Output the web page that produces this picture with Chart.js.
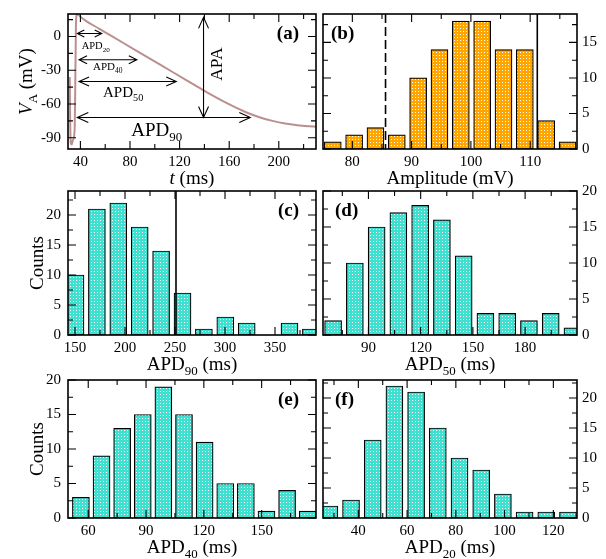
<!DOCTYPE html>
<html>
<head>
<meta charset="utf-8">
<title>Action potential and APD histograms</title>
<script src="https://cdn.jsdelivr.net/npm/chart.js@4.4.1/dist/chart.umd.min.js"></script>
<style>
  html, body { margin: 0; padding: 0; background: #fff; }
  #fig { position: relative; width: 606px; height: 559px; }
  #fig canvas { position: absolute; left: 0; top: 0; }
</style>
</head>
<body>
<div id="fig">
  <canvas id="panelA" width="606" height="559"></canvas>
  <canvas id="panelB" width="606" height="559"></canvas>
  <canvas id="panelC" width="606" height="559"></canvas>
  <canvas id="panelD" width="606" height="559"></canvas>
  <canvas id="panelE" width="606" height="559"></canvas>
  <canvas id="panelF" width="606" height="559"></canvas>
</div>
<script>
const W = 606, H = 559;
const FONT = '"Liberation Serif", "Times New Roman", Times, serif';

// (a) action potential trace, t in ms, V in mV
const apTime = [31.4, 31.7, 32.2, 33, 34, 35.3, 35.9, 36.4, 37, 38, 40, 45, 55, 65, 75, 85, 95, 105, 115, 125,
                135, 145, 155, 165, 175, 185, 195, 205, 215, 225, 230];
const apVolt = [-36, -70, -94, -96, -92, -84, -40, 10, 19, 19.5, 17.5, 13.5, 7, 0.5, -6, -12.5, -19, -25.5, -32, -38.5,
                -45, -51.5, -57.5, -63, -68, -72, -75, -77.3, -78.8, -79.8, -80.2];
// arrows drawn on (a)
const apdNames = ['20', '40', '50', '90'];
const apdLevel = [2.7, -20.6, -40, -72];
const apdStart = [37.5, 38.9, 38.9, 37.5];
const apdEnd = [57.2, 85.5, 117.3, 177];
const apaTime = 139.3;
const apaSpan = [17, -72];

// (b) amplitude histogram
const ampBins = [76.7, 80.3, 83.9, 87.5, 91.1, 94.7, 98.3, 101.9, 105.5, 109.1, 112.7, 116.3];
const ampCounts = [1, 2, 3, 2, 10, 14, 18, 18, 14, 14, 4, 1];
const ampDashed = 85.6, ampSolid = 111.2;

// (c) APD90 histogram
const apd90Bins = [150.5, 171.9, 193.3, 214.7, 236.1, 257.5, 278.9, 300.3, 321.7, 343.1, 364.5, 385.9];
const apd90Counts = [10, 21, 22, 18, 14, 7, 1, 3, 2, 0, 2, 1];
const apd90Solid = 251;

// (d) APD50 histogram
const apd50Bins = [69.7, 82.2, 94.7, 107.2, 119.7, 132.2, 144.7, 157.2, 169.7, 182.2, 194.7, 207.2];
const apd50Counts = [2, 10, 15, 17, 18, 16, 11, 3, 3, 2, 3, 1];

// (e) APD40 histogram
const apd40Bins = [56.2, 66.9, 77.6, 88.3, 99.0, 109.7, 120.4, 131.1, 141.8, 152.5, 163.2, 173.9];
const apd40Counts = [3, 9, 13, 15, 19, 15, 11, 5, 5, 1, 4, 1];

// (f) APD20 histogram
const apd20Bins = [28.1, 37.0, 45.9, 54.8, 63.7, 72.6, 81.5, 90.4, 99.3, 108.2, 117.1, 126.0];
const apd20Counts = [2, 3, 13, 22, 21, 15, 10, 8, 4, 1, 1, 1];

// plot boxes (pixels)
const boxA = { l: 68, t: 14, r: 316, b: 149 };
const boxB = { l: 323, t: 14, r: 577, b: 149 };
const boxC = { l: 68, t: 191, r: 316, b: 335 };
const boxD = { l: 323, t: 191, r: 577, b: 335 };
const boxE = { l: 68, t: 380, r: 316, b: 518 };
const boxF = { l: 323, t: 380, r: 577, b: 518 };

const common = {
  responsive: false, animation: false, devicePixelRatio: 1, events: [],
  plugins: { legend: { display: false }, tooltip: { enabled: false } }
};

// labelled ticks only at whole multiples of the step
function stepTicks(step) {
  return function (s) {
    const out = [];
    for (let k = Math.ceil(s.min / step - 1e-6); k * step <= s.max + 1e-6; k++) out.push({ value: k * step });
    s.ticks = out;
  };
}

function axisX(min, max, step) {
  return {
    type: 'linear', position: 'bottom', min: min, max: max, offset: false,
    grid: { display: false, drawTicks: false }, border: { display: false },
    ticks: { autoSkip: false, maxRotation: 0, padding: 4, color: '#000', font: { family: FONT, size: 15 } },
    afterBuildTicks: stepTicks(step),
    afterFit(s) { s.height = 30; s.paddingLeft = 0; s.paddingRight = 0; }
  };
}

function axisY(min, max, step, side) {
  return {
    type: 'linear', position: side, min: min, max: max,
    grid: { display: false, drawTicks: false }, border: { display: false },
    ticks: { autoSkip: false, padding: side === 'left' ? 7 : 5, color: '#000', font: { family: FONT, size: 15 } },
    afterBuildTicks: stepTicks(step),
    afterFit(s) { s.width = side === 'left' ? 50 : 25; s.paddingTop = 0; s.paddingBottom = 0; }
  };
}

function layoutFor(b, side) {
  const lw = side === 'left' ? 50 : 0, rw = side === 'right' ? 25 : 0;
  return { padding: { left: b.l - lw, right: W - b.r - rw, top: b.t, bottom: H - b.b - 30 } };
}

function dotFill(canvas, base) {
  const t = document.createElement('canvas');
  t.width = 3; t.height = 3;
  const g = t.getContext('2d');
  g.fillStyle = base; g.fillRect(0, 0, 3, 3);
  g.fillStyle = '#fff'; g.fillRect(1, 1, 1, 1);
  return canvas.getContext('2d').createPattern(t, 'repeat');
}

// text with italic / subscript pieces
function rich(ctx, parts, x, y, size, align, angle, weight) {
  ctx.save();
  ctx.translate(x, y);
  if (angle) ctx.rotate(angle);
  ctx.fillStyle = '#000';
  ctx.textBaseline = 'alphabetic';
  ctx.textAlign = 'left';
  const fonts = parts.map(p => (p[1] === 'i' ? 'italic ' : 'normal ') + (weight || 'normal') + ' ' +
    (p[1] === 'sub' ? size * 0.68 : size) + 'px ' + FONT);
  const widths = parts.map((p, i) => { ctx.font = fonts[i]; return ctx.measureText(p[0]).width; });
  const total = widths.reduce((s, w) => s + w, 0);
  let cx = align === 'center' ? -total / 2 : align === 'right' ? -total : 0;
  parts.forEach((p, i) => {
    ctx.font = fonts[i];
    ctx.fillText(p[0], cx, p[1] === 'sub' ? size * 0.28 : 0);
    cx += widths[i];
  });
  ctx.restore();
}

function eachTick(scale, minor, major, fn) {
  const k0 = Math.ceil(scale.min / minor - 1e-6), k1 = Math.floor(scale.max / minor + 1e-6);
  for (let k = k0; k <= k1; k++) {
    const v = k * minor;
    const big = Math.abs(v / major - Math.round(v / major)) < 1e-6;
    fn(scale.getPixelForValue(v), big ? 8 : 5);
  }
}

function arrow(ctx, x1, y1, x2, y2, len, half) {
  const a = Math.atan2(y2 - y1, x2 - x1);
  ctx.beginPath();
  ctx.moveTo(x1, y1); ctx.lineTo(x2, y2);
  [[x1, y1, a], [x2, y2, a + Math.PI]].forEach(([px, py, d]) => {
    const ux = Math.cos(d), uy = Math.sin(d);
    ctx.moveTo(px + ux * len - uy * half, py + uy * len + ux * half);
    ctx.lineTo(px, py);
    ctx.lineTo(px + ux * len + uy * half, py + uy * len - ux * half);
  });
  ctx.stroke();
}

// frame, inward ticks, reference lines, titles, panel letter
function deco(p) {
  return {
    id: 'deco',
    afterDatasetsDraw(chart) {
      const { ctx, chartArea: a, scales: { x, y } } = chart;
      ctx.save();
      ctx.strokeStyle = '#000';
      (p.refs || []).forEach(r => {
        const px = x.getPixelForValue(r.at);
        ctx.lineWidth = 1.6;
        ctx.setLineDash(r.dash || []);
        ctx.beginPath(); ctx.moveTo(px, a.top); ctx.lineTo(px, a.bottom); ctx.stroke();
      });
      ctx.setLineDash([]);
      ctx.lineWidth = 1.1;
      ctx.beginPath();
      eachTick(x, p.xt[0], p.xt[1], (px, len) => {
        ctx.moveTo(px, a.bottom); ctx.lineTo(px, a.bottom - len);
        ctx.moveTo(px, a.top); ctx.lineTo(px, a.top + len);
      });
      eachTick(y, p.yt[0], p.yt[1], (py, len) => {
        ctx.moveTo(a.left, py); ctx.lineTo(a.left + len, py);
        ctx.moveTo(a.right, py); ctx.lineTo(a.right - len, py);
      });
      ctx.stroke();
      ctx.lineWidth = 1.6;
      ctx.strokeRect(a.left, a.top, a.right - a.left, a.bottom - a.top);
      if (p.extra) p.extra(chart);
      ctx.restore();
    },
    afterDraw(chart) {
      const { ctx, chartArea: a } = chart;
      rich(ctx, p.xTitle, (a.left + a.right) / 2, a.bottom + 35, 19, 'center');
      if (p.yTitle) rich(ctx, p.yTitle, a.left - p.yTitleGap, (a.top + a.bottom) / 2, 19, 'center', -Math.PI / 2);
      const lx = p.letterRight ? a.right - p.letterGap : a.left + p.letterGap;
      rich(ctx, [[p.letter, '']], lx, a.top + 25, 19, p.letterRight ? 'right' : 'left', 0, 'bold');
    }
  };
}

function histogram(id, box, xs, ys, bins, counts, base, side, opts) {
  const canvas = document.getElementById(id);
  return new Chart(canvas, {
    type: 'bar',
    data: {
      datasets: [{
        data: bins.map((b, i) => ({ x: b, y: counts[i] })),
        backgroundColor: dotFill(canvas, base),
        borderColor: '#000', borderWidth: 1.2, borderSkipped: false,
        barThickness: 17
      }]
    },
    options: Object.assign({}, common, {
      layout: layoutFor(box, side),
      scales: { x: axisX(xs[0], xs[1], xs[2]), y: axisY(ys[0], ys[1], ys[2], side) }
    }),
    plugins: [deco(opts)]
  });
}

// ---- (a) ----
const apdLook = [
  { len: 7, half: 3.5, dx: 4.4, dy: 15.7, size: 10.5 },
  { len: 8, half: 4, dx: 14, dy: 10, size: 11 },
  { len: 10, half: 4.5, dx: 24, dy: 15.7, size: 15 },
  { len: 11, half: 5, dx: 54, dy: 18.3, size: 19 }
];
function drawApAnnotations(chart) {
  const { ctx, scales: { x, y } } = chart;
  ctx.strokeStyle = '#000';
  ctx.lineWidth = 1.1;
  apdNames.forEach((n, i) => {
    const s = apdLook[i];
    const x1 = x.getPixelForValue(apdStart[i]), x2 = x.getPixelForValue(apdEnd[i]);
    const py = y.getPixelForValue(apdLevel[i]);
    arrow(ctx, x1, py, x2, py, s.len, s.half);
    rich(ctx, [['APD', ''], [n, 'sub']], x1 + s.dx, py + s.dy, s.size, 'left');
  });
  const ax = x.getPixelForValue(apaTime);
  const y1 = y.getPixelForValue(apaSpan[0]), y2 = y.getPixelForValue(apaSpan[1]);
  arrow(ctx, ax, y1, ax, y2, 11, 5);
  rich(ctx, [['APA', '']], ax + 18.4, y1 + 46.7, 17.5, 'center', -Math.PI / 2);
}

new Chart(document.getElementById('panelA'), {
  type: 'line',
  data: {
    datasets: [{
      data: apTime.map((t, i) => ({ x: t, y: apVolt[i] })),
      borderColor: 'rgb(188,143,143)', borderWidth: 2, pointRadius: 0,
      cubicInterpolationMode: 'monotone'
    }]
  },
  options: Object.assign({}, common, {
    layout: layoutFor(boxA, 'left'),
    scales: { x: axisX(30, 230, 40), y: axisY(-100, 20, 30, 'left') }
  }),
  plugins: [deco({
    xt: [20, 40], yt: [15, 30],
    xTitle: [['t', 'i'], [' (ms)', '']],
    yTitle: [['V', 'i'], ['A', 'sub'], [' (mV)', '']], yTitleGap: 36.5,
    letter: '(a)', letterRight: true, letterGap: 17,
    extra: drawApAnnotations
  })]
});

// ---- (b) - (f) ----
const orange = '#ffa500', turquoise = '#40e0d0';

histogram('panelB', boxB, [75.05, 117.9, 10], [0, 19, 5], ampBins, ampCounts, orange, 'right', {
  xt: [5, 10], yt: [2.5, 5],
  refs: [{ at: ampDashed, dash: [9, 4] }, { at: ampSolid }],
  xTitle: [['Amplitude (mV)', '']],
  letter: '(b)', letterRight: false, letterGap: 8
});

histogram('panelC', boxC, [143, 391, 50], [0, 24, 5], apd90Bins, apd90Counts, turquoise, 'left', {
  xt: [25, 50], yt: [2.5, 5],
  refs: [{ at: apd90Solid }],
  xTitle: [['APD', ''], ['90', 'sub'], [' (ms)', '']],
  yTitle: [['Counts', '']], yTitleGap: 25,
  letter: '(c)', letterRight: true, letterGap: 17
});

histogram('panelD', boxD, [63.9, 209.8, 30], [0, 20, 5], apd50Bins, apd50Counts, turquoise, 'right', {
  xt: [15, 30], yt: [2.5, 5],
  xTitle: [['APD', ''], ['50', 'sub'], [' (ms)', '']],
  letter: '(d)', letterRight: false, letterGap: 12
});

histogram('panelE', boxE, [49.5, 178.2, 30], [0, 20, 5], apd40Bins, apd40Counts, turquoise, 'left', {
  xt: [15, 30], yt: [2.5, 5],
  xTitle: [['APD', ''], ['40', 'sub'], [' (ms)', '']],
  yTitle: [['Counts', '']], yTitleGap: 25,
  letter: '(e)', letterRight: true, letterGap: 17
});

histogram('panelF', boxF, [25.5, 129.7, 20], [0, 23, 5], apd20Bins, apd20Counts, turquoise, 'right', {
  xt: [10, 20], yt: [2.5, 5],
  xTitle: [['APD', ''], ['20', 'sub'], [' (ms)', '']],
  letter: '(f)', letterRight: false, letterGap: 12
});
</script>
</body>
</html>
